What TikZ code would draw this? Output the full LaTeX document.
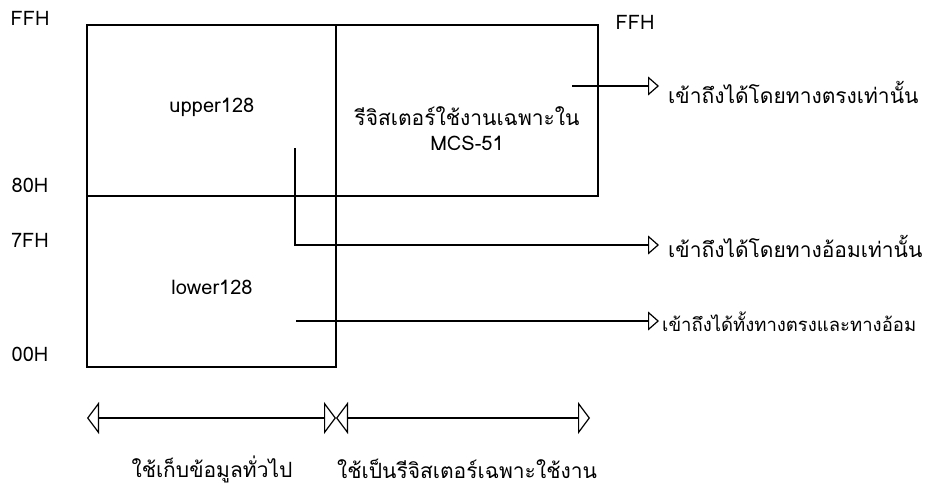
\documentclass[tikz,border=0pt]{standalone}
\usepackage{fontspec}
\setmainfont[Script=Thai]{Loma}
\usetikzlibrary{arrows.meta}
\begin{document}
\begin{tikzpicture}[x=1pt,y=-1pt,
  txt/.style={font=\fontsize{20}{24}\selectfont, inner sep=0pt},
  thai/.style={font=\fontsize{21}{25}\selectfont, inner sep=0pt},
  lbl/.style={thai, anchor=west},
  boxline/.style={line width=1.2pt},
  smalltip/.tip={Triangle[open,length=11pt,width=19pt,line width=1.2pt]},
  bigtip/.tip={Triangle[open,length=12pt,width=32pt,line width=1.2pt]},
  tri/.style={-smalltip, line width=1.2pt},
  tri2/.style={bigtip-bigtip, line width=1.2pt}]
\useasboundingbox (0,0) rectangle (928,490);
% boxes
\draw[boxline] (87,25) rectangle (336,367);
\draw[boxline] (336,25) rectangle (598,196);
\draw[boxline] (87,196) -- (336,196);
% address labels
\node[txt] (ffhl) at (30,18) {FFH};
\node[txt] (h80) at (30,185) {80H};
\node[txt] (h7f) at (30,240) {7FH};
\node[txt] (h00) at (30,354) {00H};
\node[txt] (ffhr) at (635,22) {FFH};
% box texts
\node[txt] (upper) at (212,107) {upper128};
\node[txt] (lower) at (212,287) {lower128};
\node[thai, align=center] (sfr) at (467,129) {รีจิสเตอร์ใช้งานเฉพาะใน\\{\fontsize{20}{24}\selectfont MCS-51}};
% access labels
\node[lbl] (acc1) at (668,92) {เข้าถึงได้โดยทางตรงเท่านั้น};
\node[lbl] (acc2) at (668,246) {เข้าถึงได้โดยทางอ้อมเท่านั้น};
\node[inner sep=0pt, anchor=west, font=\fontsize{18.5}{22}\selectfont] (acc3) at (662,322) {เข้าถึงได้ทั้งทางตรงและทางอ้อม};
% connectors
\coordinate (s1) at (572,86);
\coordinate (s2) at (295,148);
\coordinate (b2) at (295,245);
\coordinate (s3) at (296,321);
\coordinate (e1) at (659,86);
\coordinate (e2) at (659,245);
\coordinate (e3) at (659,321);
\draw[tri] (s1) -- (e1);
\draw[tri] (s2) -- (b2) -- (e2);
\draw[tri] (s3) -- (e3);
% bottom range arrows
\coordinate (r0) at (87,418);
\coordinate (r1) at (336,418);
\coordinate (r2) at (590,418);
\draw[tri2] (r0) -- (r1);
\draw[tri2] (r1) -- (r2);
\node[thai] (gen) at (212,469) {ใช้เก็บข้อมูลทั่วไป};
\node[thai] (sfruse) at (467,469) {ใช้เป็นรีจิสเตอร์เฉพาะใช้งาน};
\end{tikzpicture}
\end{document}
